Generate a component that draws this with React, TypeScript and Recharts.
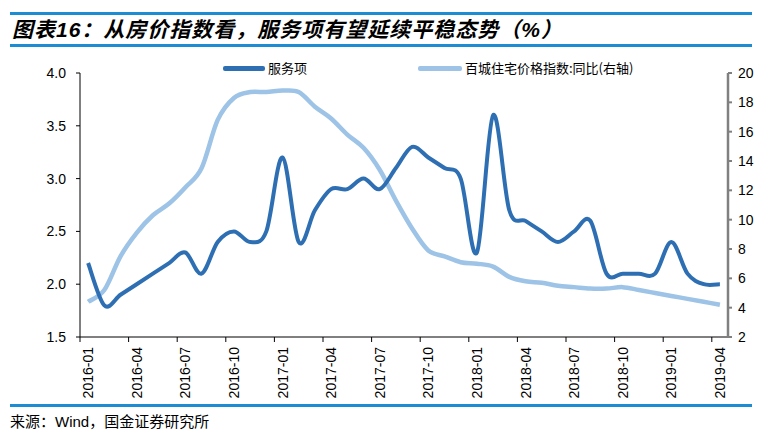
import React from "react";
import { Line, LineChart, XAxis, YAxis } from "recharts";

// monthly categories, 2016-01 .. 2019-04
const months = [
  "2016-01", "2016-02", "2016-03", "2016-04", "2016-05", "2016-06",
  "2016-07", "2016-08", "2016-09", "2016-10", "2016-11", "2016-12",
  "2017-01", "2017-02", "2017-03", "2017-04", "2017-05", "2017-06",
  "2017-07", "2017-08", "2017-09", "2017-10", "2017-11", "2017-12",
  "2018-01", "2018-02", "2018-03", "2018-04", "2018-05", "2018-06",
  "2018-07", "2018-08", "2018-09", "2018-10", "2018-11", "2018-12",
  "2019-01", "2019-02", "2019-03", "2019-04",
];

// 服务项 (left axis)
const serviceValues = [
  2.2, 1.8, 1.9, 2.0, 2.1, 2.2, 2.3, 2.1, 2.4, 2.5, 2.4, 2.5,
  3.2, 2.4, 2.7, 2.9, 2.9, 3.0, 2.9, 3.1, 3.3, 3.2, 3.1, 3.0,
  2.3, 3.6, 2.7, 2.6, 2.5, 2.4, 2.5, 2.6, 2.1, 2.1, 2.1, 2.1,
  2.4, 2.1, 2.0, 2.0,
];

// 百城住宅价格指数:同比 (right axis)
const housePriceYoY = [
  4.4, 5.2, 7.5, 9.1, 10.3, 11.1, 12.2, 13.5, 16.8, 18.3, 18.7, 18.7,
  18.8, 18.7, 17.7, 16.9, 15.8, 14.9, 13.4, 11.3, 9.4, 7.9, 7.5, 7.1,
  7.0, 6.8, 6.1, 5.8, 5.7, 5.5, 5.4, 5.3, 5.3, 5.4, 5.2, 5.0,
  4.8, 4.6, 4.4, 4.2,
];

const tickLabels = [
  "2016-01", "2016-04", "2016-07", "2016-10", "2017-01", "2017-04", "2017-07",
  "2017-10", "2018-01", "2018-04", "2018-07", "2018-10", "2019-01", "2019-04",
];
const leftTicks = [1.5, 2.0, 2.5, 3.0, 3.5, 4.0];
const rightTicks = [2, 4, 6, 8, 10, 12, 14, 16, 18, 20];

const series = [
  { key: "service", name: "服务项", color: "#2E6FB3", width: 4, axis: "left" },
  { key: "house", name: "百城住宅价格指数:同比(右轴)", color: "#9DC3E6", width: 4.5, axis: "right" },
];

const data = months.map((month, i) => ({
  month,
  service: serviceValues[i],
  house: housePriceYoY[i],
}));

const RULE = "#1C8DD3";
const AXIS_FONT = "'Liberation Sans', Arial, sans-serif";
const CJK_FONT = "'Noto Sans CJK SC', sans-serif";
// plot is 648px wide for 40 months -> half a month on each side
const HALF_BAND = 8.1;

// Excel-style smoothed line (cubic bezier, neighbours / 6)
function smoothCurve(context: any) {
  let pts: number[][] = [];
  return {
    areaStart() {},
    areaEnd() {},
    lineStart() {
      pts = [];
    },
    point(x: number, y: number) {
      pts.push([+x, +y]);
    },
    lineEnd() {
      if (!pts.length) return;
      context.moveTo(pts[0][0], pts[0][1]);
      for (let i = 0; i < pts.length - 1; i++) {
        const p0 = pts[i - 1] || pts[i];
        const p1 = pts[i];
        const p2 = pts[i + 1];
        const p3 = pts[i + 2] || p2;
        context.bezierCurveTo(
          p1[0] + (p2[0] - p0[0]) / 6,
          p1[1] + (p2[1] - p0[1]) / 6,
          p2[0] - (p3[0] - p1[0]) / 6,
          p2[1] - (p3[1] - p1[1]) / 6,
          p2[0],
          p2[1]
        );
      }
    },
  };
}

function MonthTick(props: any) {
  const { x, y, payload } = props;
  return (
    <g>
      <line x1={x - HALF_BAND} x2={x - HALF_BAND} y1={y} y2={y + 5} stroke="#000" />
      <text
        x={x}
        y={y + 10}
        transform={`rotate(-90, ${x}, ${y + 10})`}
        textAnchor="end"
        dominantBaseline="central"
        fontFamily={AXIS_FONT}
        fontSize={14}
        fill="#000"
      >
        {payload.value}
      </text>
    </g>
  );
}

export default function App() {
  return (
    <div
      style={{
        position: "absolute",
        left: 0,
        top: 0,
        width: 771,
        height: 442,
        background: "#fff",
        overflow: "hidden",
      }}
    >
      <div style={{ position: "absolute", left: 10, top: 12, width: 742, height: 3, background: RULE }} />
      <div
        style={{
          position: "absolute",
          left: 12,
          top: 16,
          fontFamily: `${AXIS_FONT.split(",")[0]}, ${CJK_FONT}`,
          fontSize: 21,
          fontWeight: "bold",
          fontStyle: "italic",
          letterSpacing: 1,
          lineHeight: "28px",
          whiteSpace: "nowrap",
        }}
      >
        图表16：从房价指数看，服务项有望延续平稳态势（%）
      </div>
      <div style={{ position: "absolute", left: 10, top: 44, width: 742, height: 3, background: RULE }} />

      <LineChart
        width={771}
        height={442}
        data={data}
        margin={{ top: 73, right: 3, bottom: 40, left: 10 }}
        style={{ position: "absolute", left: 0, top: 0 }}
      >
        <XAxis
          dataKey="month"
          ticks={tickLabels}
          interval={0}
          padding={{ left: HALF_BAND, right: HALF_BAND }}
          tickLine={false}
          tickSize={0}
          tickMargin={0}
          height={65}
          axisLine={{ stroke: "#000" }}
          tick={<MonthTick />}
        />
        <YAxis
          yAxisId="left"
          orientation="left"
          width={70}
          domain={[1.5, 4]}
          ticks={leftTicks}
          tickFormatter={(v) => Number(v).toFixed(1)}
          tickSize={4}
          tickMargin={10}
          axisLine={{ stroke: "#000" }}
          tickLine={{ stroke: "#000" }}
          tick={{ fill: "#000", fontSize: 14, fontFamily: AXIS_FONT }}
        />
        <YAxis
          yAxisId="right"
          orientation="right"
          width={40}
          domain={[2, 20]}
          ticks={rightTicks}
          tickSize={4}
          tickMargin={6}
          axisLine={{ stroke: "#808080", strokeWidth: 2.5 }}
          tickLine={{ stroke: "#808080", strokeWidth: 2 }}
          tick={{ fill: "#000", fontSize: 14, fontFamily: AXIS_FONT }}
        />
        {[...series].reverse().map((s) => (
          <Line
            key={s.key}
            yAxisId={s.axis}
            dataKey={s.key}
            name={s.name}
            type={smoothCurve as any}
            stroke={s.color}
            strokeWidth={s.width}
            dot={false}
            activeDot={false}
            isAnimationActive={false}
          />
        ))}
      </LineChart>

      {/* legend */}
      {series.map((s, i) => (
        <div
          key={s.key}
          style={{
            position: "absolute",
            left: i === 0 ? 223 : 418,
            top: 60,
            display: "flex",
            alignItems: "center",
            whiteSpace: "nowrap",
          }}
        >
          <span
            style={{
              display: "inline-block",
              width: i === 0 ? 42 : 44,
              height: 5,
              borderRadius: 2,
              background: s.color,
              marginRight: 3,
            }}
          />
          <span style={{ fontFamily: CJK_FONT, fontSize: 13, lineHeight: "16px", color: "#000" }}>{s.name}</span>
        </div>
      ))}

      <div style={{ position: "absolute", left: 10, top: 404, width: 742, height: 3, background: RULE }} />
      <div
        style={{
          position: "absolute",
          left: 10,
          top: 412,
          fontFamily: `${AXIS_FONT.split(",")[0]}, ${CJK_FONT}`,
          fontSize: 15,
          lineHeight: "20px",
          whiteSpace: "nowrap",
        }}
      >
        来源：Wind，国金证券研究所
      </div>
    </div>
  );
}
